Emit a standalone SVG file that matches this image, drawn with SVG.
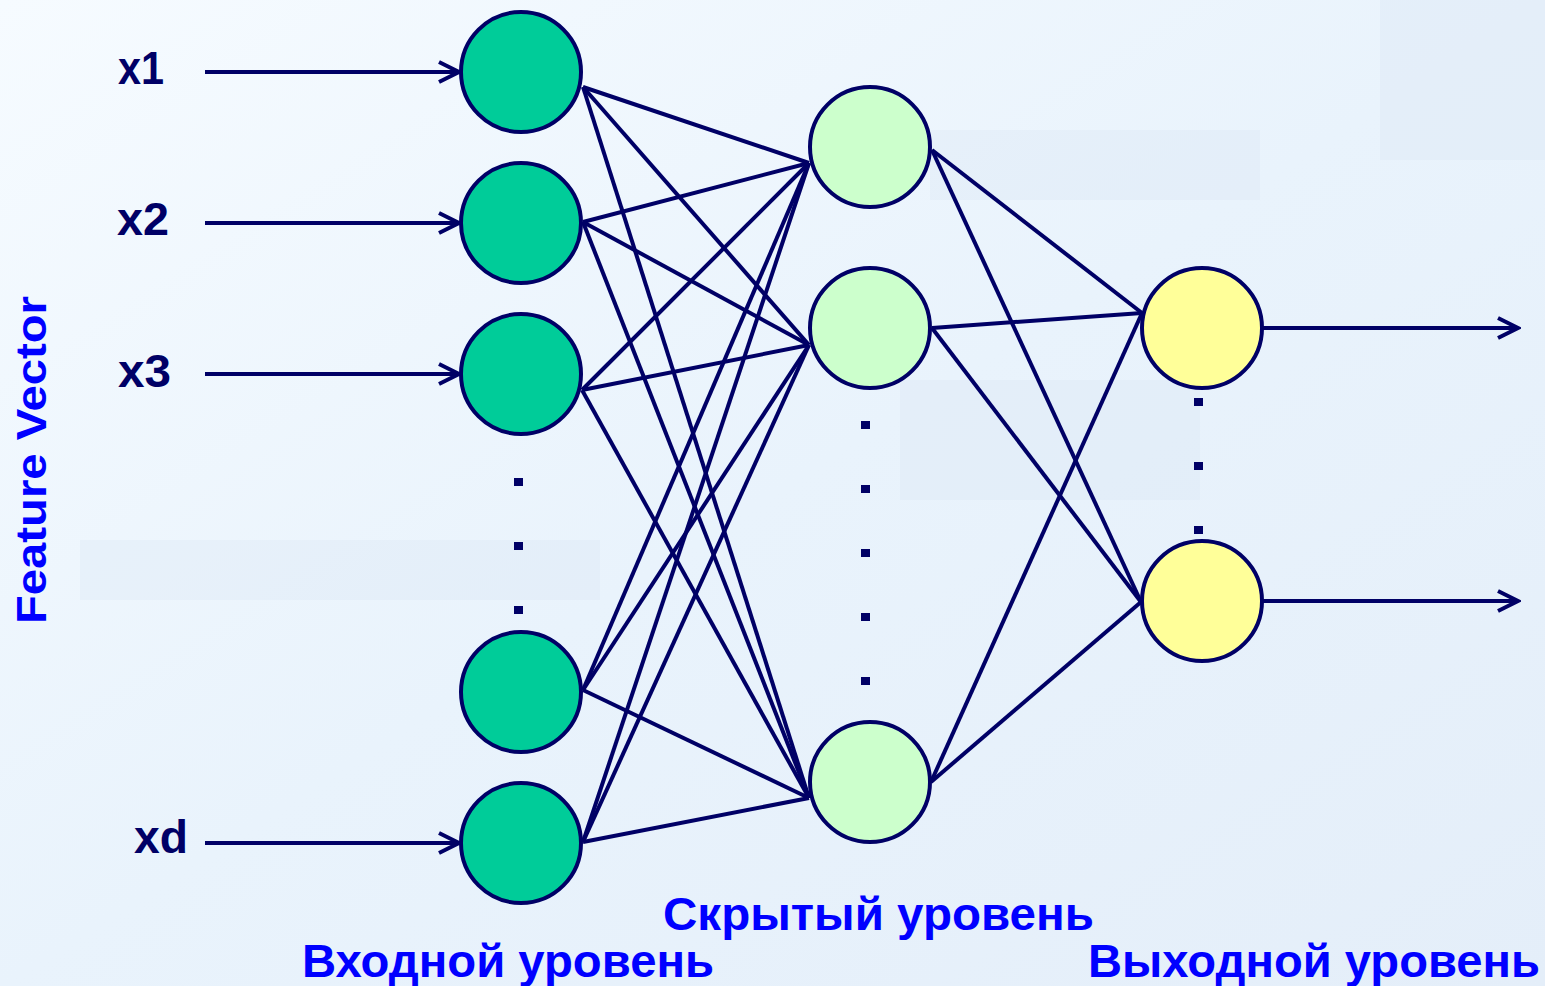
<svg xmlns="http://www.w3.org/2000/svg" width="1545" height="986" viewBox="0 0 1545 986">
<style>
.c{stroke:#000066;stroke-width:4}
.in{fill:#00CC99}
.hid{fill:#CCFFCC}
.out{fill:#FFFF99}
.ln{stroke:#000066;stroke-width:4;fill:none}
.lbl{font-family:"Liberation Sans",Arial,sans-serif;font-weight:bold;font-size:47px;fill:#000066}
.ttl{font-family:"Liberation Sans",Arial,sans-serif;font-weight:bold;font-size:46px;fill:#0000FF}
.dot{fill:#000066}
</style>
<defs>
<linearGradient id="bg" x1="0" y1="0" x2="1" y2="1">
<stop offset="0" stop-color="#f6fbff"/>
<stop offset="0.5" stop-color="#e9f3fc"/>
<stop offset="1" stop-color="#e4eef9"/>
</linearGradient>
<marker id="arr" viewBox="0 0 24 24" refX="21" refY="12" markerWidth="24" markerHeight="24" markerUnits="userSpaceOnUse" orient="auto">
<path d="M1,2 L21,12 L1,22" fill="none" stroke="#000066" stroke-width="4"/>
</marker>
</defs>
<rect width="1545" height="986" fill="url(#bg)"/>
<g opacity="0.22">
<rect x="80" y="540" width="520" height="60" fill="#d0def0"/>
<rect x="930" y="130" width="330" height="70" fill="#d0def0"/>
<rect x="900" y="380" width="300" height="120" fill="#d0def0"/>
<rect x="1380" y="0" width="165" height="160" fill="#d0def0"/>
</g>
<g id="connectors">
<line class="ln" x1="205" y1="72" x2="459" y2="72" marker-end="url(#arr)"/>
<line class="ln" x1="205" y1="223" x2="459" y2="223" marker-end="url(#arr)"/>
<line class="ln" x1="205" y1="374" x2="459" y2="374" marker-end="url(#arr)"/>
<line class="ln" x1="205" y1="843" x2="459" y2="843" marker-end="url(#arr)"/>
<line class="ln" x1="583" y1="87" x2="809" y2="163"/>
<line class="ln" x1="583" y1="87" x2="809" y2="345"/>
<line class="ln" x1="583" y1="87" x2="809" y2="798"/>
<line class="ln" x1="583" y1="222" x2="809" y2="163"/>
<line class="ln" x1="583" y1="222" x2="809" y2="345"/>
<line class="ln" x1="583" y1="222" x2="809" y2="798"/>
<line class="ln" x1="582" y1="390" x2="809" y2="163"/>
<line class="ln" x1="582" y1="390" x2="809" y2="345"/>
<line class="ln" x1="582" y1="390" x2="809" y2="798"/>
<line class="ln" x1="583" y1="690" x2="809" y2="163"/>
<line class="ln" x1="583" y1="690" x2="809" y2="345"/>
<line class="ln" x1="583" y1="690" x2="809" y2="798"/>
<line class="ln" x1="583" y1="842" x2="809" y2="163"/>
<line class="ln" x1="583" y1="842" x2="809" y2="345"/>
<line class="ln" x1="583" y1="842" x2="809" y2="798"/>
<line class="ln" x1="932" y1="150" x2="1142" y2="313"/>
<line class="ln" x1="932" y1="150" x2="1141" y2="602"/>
<line class="ln" x1="932" y1="328" x2="1142" y2="313"/>
<line class="ln" x1="932" y1="328" x2="1141" y2="602"/>
<line class="ln" x1="931" y1="782" x2="1142" y2="313"/>
<line class="ln" x1="931" y1="782" x2="1141" y2="602"/>
<line class="ln" x1="1263" y1="328" x2="1518" y2="328" marker-end="url(#arr)"/>
<line class="ln" x1="1263" y1="601" x2="1518" y2="601" marker-end="url(#arr)"/>
</g>
<g id="input1"><circle class="c in" cx="521" cy="72" r="60"/></g>
<g id="input2"><circle class="c in" cx="521" cy="223" r="60"/></g>
<g id="input3"><circle class="c in" cx="521" cy="374" r="60"/></g>
<g id="input4"><circle class="c in" cx="521" cy="692" r="60"/></g>
<g id="input5"><circle class="c in" cx="521" cy="843" r="60"/></g>
<g id="hidden1"><circle class="c hid" cx="870" cy="147" r="60"/></g>
<g id="hidden2"><circle class="c hid" cx="870" cy="328" r="60"/></g>
<g id="hidden3"><circle class="c hid" cx="870" cy="782" r="60"/></g>
<g id="output1"><circle class="c out" cx="1202" cy="328" r="60"/></g>
<g id="output2"><circle class="c out" cx="1202" cy="601" r="60"/></g>
<g id="dots">
<rect class="dot" x="514" y="478" width="9" height="8"/>
<rect class="dot" x="514" y="542" width="9" height="8"/>
<rect class="dot" x="514" y="606" width="9" height="8"/>
<rect class="dot" x="861" y="421" width="9" height="8"/>
<rect class="dot" x="861" y="485" width="9" height="8"/>
<rect class="dot" x="861" y="549" width="9" height="8"/>
<rect class="dot" x="861" y="613" width="9" height="8"/>
<rect class="dot" x="861" y="677" width="9" height="8"/>
<rect class="dot" x="1194" y="398" width="9" height="8"/>
<rect class="dot" x="1194" y="462" width="9" height="8"/>
<rect class="dot" x="1194" y="526" width="9" height="8"/>
</g>
<g id="labels">
<text class="lbl" x="118" y="84" textLength="46" lengthAdjust="spacingAndGlyphs">x1</text>
<text class="lbl" x="117" y="235" textLength="52" lengthAdjust="spacingAndGlyphs">x2</text>
<text class="lbl" x="118" y="387" textLength="53" lengthAdjust="spacingAndGlyphs">x3</text>
<text class="lbl" x="134" y="853" textLength="54" lengthAdjust="spacingAndGlyphs">xd</text>
<text class="ttl" transform="translate(46,624) rotate(-90)" x="0" y="0" style="font-size:42px" textLength="328" lengthAdjust="spacingAndGlyphs">Feature Vector</text>
<text class="ttl" x="663" y="930" textLength="431" lengthAdjust="spacingAndGlyphs">Скрытый уровень</text>
<text class="ttl" x="302" y="977" textLength="412" lengthAdjust="spacingAndGlyphs">Входной уровень</text>
<text class="ttl" x="1088" y="977" textLength="452" lengthAdjust="spacingAndGlyphs">Выходной уровень</text>
</g>
</svg>
